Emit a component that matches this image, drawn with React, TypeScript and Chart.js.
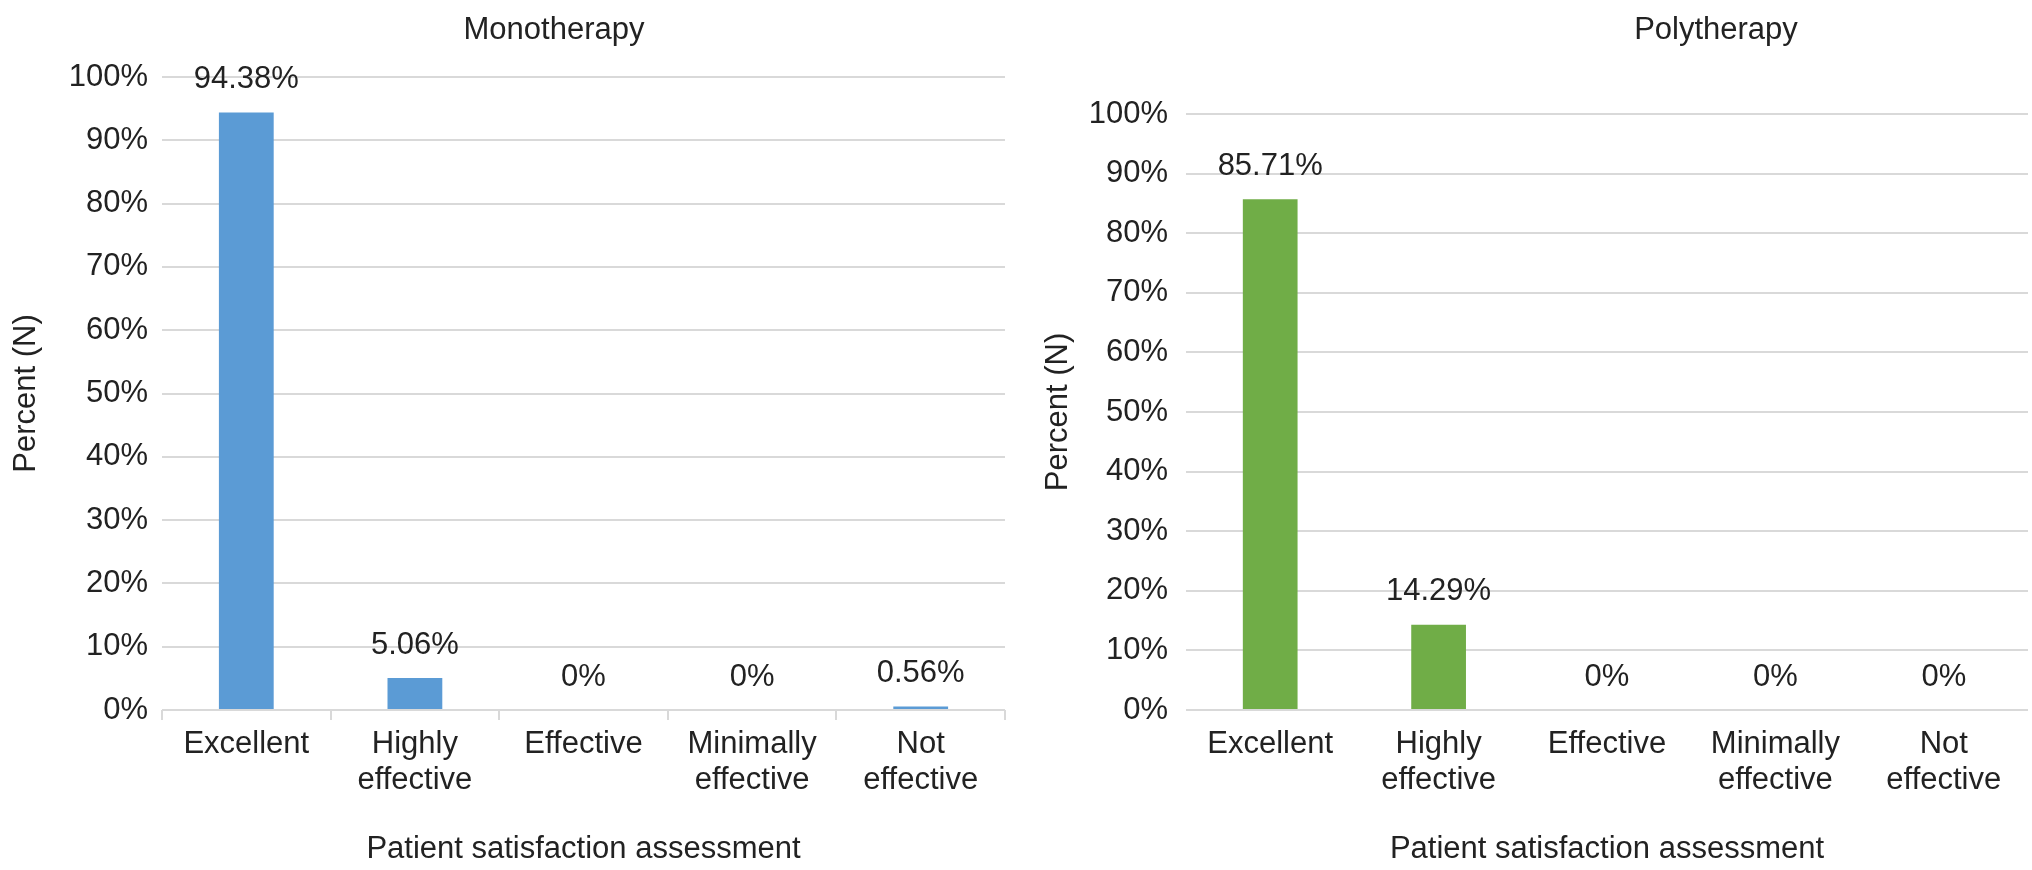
import React, { useEffect, useRef } from "react";
import { Chart, registerables } from "chart.js";

Chart.register(...registerables);

const categories: string[][] = [
  ["Excellent"],
  ["Highly", "effective"],
  ["Effective"],
  ["Minimally", "effective"],
  ["Not", "effective"],
];
const monoValues = [94.38, 5.06, 0, 0, 0.56];
const polyValues = [85.71, 14.29, 0, 0, 0];
const panelTitles = ["Monotherapy", "Polytherapy"];
const xAxisTitle = "Patient satisfaction assessment";
const yAxisTitle = "Percent (N)";
const yMin = 0;
const yMax = 100;
const yStep = 10;

const FONT = "'Liberation Sans', Arial, Helvetica, sans-serif";
const FS = 31;
const TEXT = "#222222";
const GRID = "#d9d9d9";
const H = 870;

type Panel = {
  title: string;
  values: number[];
  color: string;
  left: number;
  width: number;
  plotLeft: number;
  plotRight: number;
  plotTop: number;
  plotBottom: number;
  tickRight: number;
  yTitleX: number;
  titleX: number;
  titleY: number;
  drawTicks: boolean;
};

const panels: Panel[] = [
  {
    title: panelTitles[0],
    values: monoValues,
    color: "#5b9bd5",
    left: 0,
    width: 1040,
    plotLeft: 162,
    plotRight: 1005,
    plotTop: 77,
    plotBottom: 710,
    tickRight: 148,
    yTitleX: 26,
    titleX: 554,
    titleY: 30,
    drawTicks: true,
  },
  {
    title: panelTitles[1],
    values: polyValues,
    color: "#70ad47",
    left: 1040,
    width: 992,
    plotLeft: 1186,
    plotRight: 2028,
    plotTop: 114,
    plotBottom: 710,
    tickRight: 1168,
    yTitleX: 1058,
    titleX: 1716,
    titleY: 30,
    drawTicks: false,
  },
];

function PanelChart({ p }: { p: Panel }) {
  const ref = useRef<HTMLCanvasElement | null>(null);
  useEffect(() => {
    const canvas = ref.current;
    if (!canvas) return;
    const tickLen = p.drawTicks ? 10 : 0;
    const lineH = 36 / FS;
    const firstLineCenter = 744;
    const labelPad = firstLineCenter - p.plotBottom - tickLen - (FS * lineH) / 2;
    const titleLH = FS * 1.2;

    const valueLabels = {
      id: "valueLabels",
      afterDatasetsDraw(chart: any) {
        const ctx = chart.ctx;
        const meta = chart.getDatasetMeta(0);
        const data = chart.data.datasets[0].data as number[];
        ctx.save();
        ctx.font = `${FS}px ${FONT}`;
        ctx.fillStyle = TEXT;
        ctx.textAlign = "center";
        ctx.textBaseline = "middle";
        meta.data.forEach((el: any, i: number) => {
          const v = data[i];
          const txt = v === 0 ? "0%" : v.toFixed(2) + "%";
          ctx.fillText(txt, el.x, el.y - 33);
        });
        ctx.restore();
      },
    };

    const panelTitle = {
      id: "panelTitle",
      afterDraw(chart: any) {
        const ctx = chart.ctx;
        ctx.save();
        ctx.font = `${FS}px ${FONT}`;
        ctx.fillStyle = TEXT;
        ctx.textAlign = "center";
        ctx.textBaseline = "middle";
        ctx.fillText(p.title, p.titleX - p.left, p.titleY);
        ctx.restore();
      },
    };

    const chart = new Chart(canvas, {
      type: "bar",
      data: {
        labels: categories,
        datasets: [
          {
            data: p.values,
            backgroundColor: p.color,
            borderWidth: 0,
            categoryPercentage: 1,
            barPercentage: 0.325,
          },
        ],
      },
      options: {
        responsive: false,
        animation: false,
        devicePixelRatio: 1,
        layout: {
          padding: {
            left: 0,
            right: p.left + p.width - p.plotRight,
            top: p.plotTop,
            bottom: 0,
          },
        },
        plugins: {
          legend: { display: false },
          tooltip: { enabled: false },
          title: { display: false },
        },
        scales: {
          x: {
            offset: true,
            grid: {
              display: true,
              offset: true,
              drawOnChartArea: false,
              drawTicks: p.drawTicks,
              tickLength: tickLen,
              color: GRID,
              lineWidth: 2,
            },
            border: { display: false },
            ticks: {
              color: TEXT,
              font: { family: FONT, size: FS, lineHeight: lineH },
              padding: labelPad,
              maxRotation: 0,
              minRotation: 0,
              autoSkip: false,
            },
            title: {
              display: true,
              text: xAxisTitle,
              color: TEXT,
              font: { family: FONT, size: FS, lineHeight: 1.2 },
              padding: { top: 0, bottom: H - 849 - titleLH / 2 },
            },
            afterFit(scale: any) {
              scale.height = H - p.plotBottom;
            },
          },
          y: {
            min: yMin,
            max: yMax,
            ticks: {
              stepSize: yStep,
              color: TEXT,
              font: { family: FONT, size: FS },
              padding: p.plotLeft - p.tickRight,
              callback: (v: any) => v + "%",
            },
            grid: {
              color: GRID,
              lineWidth: 2,
              drawTicks: false,
            },
            border: { display: false },
            title: {
              display: true,
              text: yAxisTitle,
              color: TEXT,
              font: { family: FONT, size: FS, lineHeight: 1.2 },
              padding: { top: Math.max(0, p.yTitleX - p.left - titleLH / 2), bottom: 0 },
            },
            afterFit(scale: any) {
              scale.width = p.plotLeft - p.left;
            },
          },
        },
      },
      plugins: [valueLabels, panelTitle],
    });
    return () => chart.destroy();
  }, [p]);

  return (
    <canvas
      ref={ref}
      width={p.width}
      height={H}
      style={{
        position: "absolute",
        left: p.left,
        top: 0,
        width: p.width,
        height: H,
      }}
    />
  );
}

export default function App() {
  return (
    <div
      style={{
        position: "absolute",
        left: 0,
        top: 0,
        width: 2032,
        height: H,
        background: "#ffffff",
        overflow: "hidden",
      }}
    >
      {panels.map((p) => (
        <PanelChart key={p.title} p={p} />
      ))}
    </div>
  );
}
